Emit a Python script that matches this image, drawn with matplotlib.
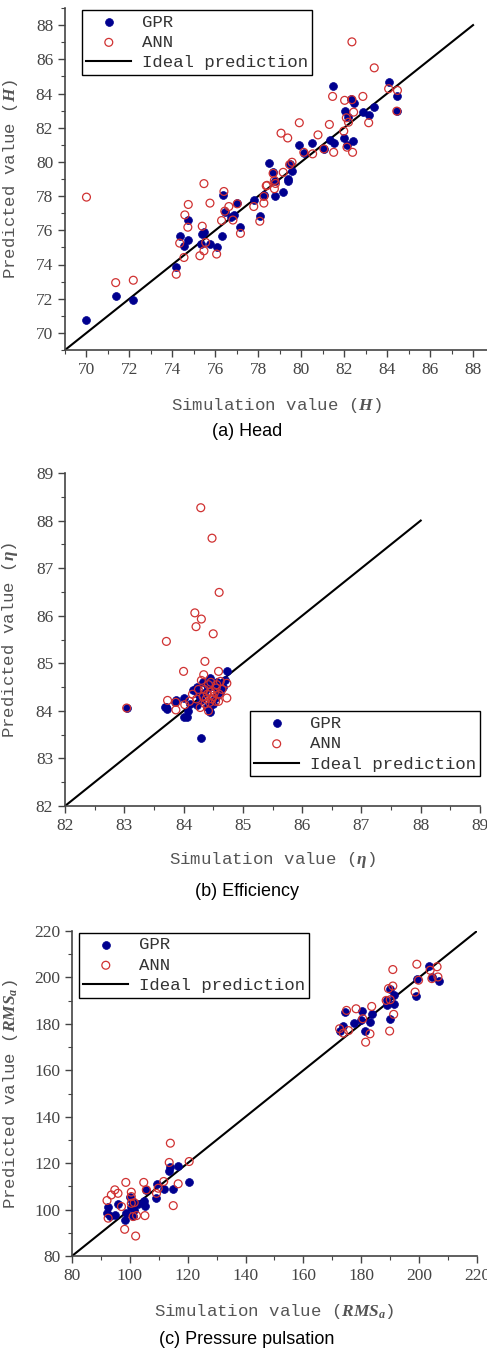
import numpy as np
import matplotlib
matplotlib.use('Agg')
import matplotlib.pyplot as plt
from matplotlib.ticker import MultipleLocator

plt.rcParams['mathtext.fontset'] = 'custom'
plt.rcParams['mathtext.it'] = 'Liberation Serif:italic:bold'
plt.rcParams['mathtext.rm'] = 'Liberation Serif'

# ---- (a) Head ----
a_gpr_x = [84.07, 84.48, 84.45, 81.46, 82.33, 82.47, 82.02, 82.87, 83.14, 83.40, 82.20, 81.98, 82.39,
           82.13, 81.36, 81.54, 80.50, 79.91, 80.12, 81.05, 79.57, 79.37, 79.50, 78.52, 78.69, 78.80,
           79.16, 78.80, 76.37, 70.00, 71.36, 72.18, 74.18, 74.34, 74.72, 74.72, 74.54, 75.39, 75.47,
           75.31, 75.75, 76.06, 76.29, 76.44, 76.71, 76.86, 77.02, 77.17, 77.79, 78.07, 78.26, 79.39]
a_gpr_y = [84.67, 83.83, 82.97, 84.42, 83.70, 83.46, 82.95, 82.91, 82.76, 83.21, 82.62, 81.40, 81.25,
           81.00, 81.29, 81.09, 81.11, 80.96, 80.50, 80.76, 79.45, 79.00, 79.88, 79.94, 79.39, 78.90,
           78.25, 78.00, 78.04, 70.73, 72.16, 71.92, 73.86, 75.69, 76.61, 75.45, 75.10, 75.78, 75.88,
           75.20, 75.20, 75.04, 75.65, 77.06, 76.80, 76.90, 77.59, 76.18, 77.75, 76.84, 78.04, 78.90]
a_ann_x = [70.00, 71.36, 72.18, 74.18, 74.34, 74.54, 74.58, 74.74, 74.72, 75.28, 75.39, 75.47, 75.47,
           75.55, 75.75, 76.06, 76.29, 76.40, 76.44, 76.63, 76.82, 77.02, 77.17, 77.79, 78.07, 78.26,
           78.26, 78.41, 78.75, 78.75, 82.36, 83.40, 84.07, 84.48, 84.45, 81.46, 82.02, 82.36, 82.87,
           82.44, 82.10, 82.20, 83.14, 79.91, 81.31, 81.98, 79.06, 79.37, 80.78, 81.51, 82.39, 82.13,
           80.53, 80.12, 81.05, 79.57, 79.46, 78.69, 79.16, 78.80, 78.37]
a_ann_y = [77.94, 72.94, 73.08, 73.43, 75.25, 74.41, 76.90, 77.51, 76.18, 74.51, 76.24, 78.73, 74.80,
           75.29, 77.59, 74.61, 76.57, 78.27, 77.12, 77.39, 76.60, 77.55, 75.82, 77.39, 76.53, 77.59,
           77.98, 78.63, 78.43, 78.92, 87.02, 85.50, 84.28, 84.18, 82.97, 83.83, 83.60, 83.64, 83.83,
           82.91, 82.58, 82.32, 82.29, 82.29, 82.19, 81.80, 81.68, 81.40, 81.58, 80.56, 80.56, 80.86,
           80.47, 80.56, 80.76, 79.98, 79.84, 79.33, 79.39, 78.74, 78.60]

# ---- (b) Efficiency ----
b_gpr_x = [83.04, 83.71, 83.72, 83.69, 83.87, 83.85, 84.01, 84.01, 84.05, 84.08, 84.29, 84.74, 84.19,
           84.16, 84.22, 84.28, 84.33, 84.42, 84.47, 84.56, 84.61, 84.70, 84.53, 84.39, 84.22, 84.11,
           84.45, 84.45, 84.55, 84.35, 84.48, 84.62, 84.30, 84.50, 84.58, 84.25, 84.40, 84.66, 84.43]
b_gpr_y = [84.06, 84.08, 84.03, 84.09, 84.23, 84.18, 84.27, 83.87, 83.88, 84.00, 83.43, 84.83, 84.43,
           84.44, 84.51, 84.30, 84.61, 84.47, 84.19, 84.61, 84.40, 84.65, 84.26, 84.09, 84.12, 84.15,
           83.97, 84.70, 84.30, 84.38, 84.52, 84.55, 84.22, 84.15, 84.45, 84.36, 84.55, 84.50, 84.05]
b_ann_x = [84.29, 84.48, 84.60, 84.19, 84.30, 84.21, 84.50, 83.71, 84.36, 84.00, 84.59, 84.34, 83.04,
           83.73, 83.87, 83.87, 84.02, 84.10, 84.30, 84.73, 84.73, 84.42, 84.28, 84.59, 84.35, 84.40,
           84.45, 84.50, 84.55, 84.48, 84.38, 84.52, 84.60, 84.42, 84.33, 84.25, 84.46, 84.56, 84.65,
           84.22, 84.15, 84.62, 84.44, 84.36, 84.54]
b_ann_y = [88.27, 87.63, 86.49, 86.06, 85.93, 85.77, 85.62, 85.46, 85.04, 84.83, 84.83, 84.76, 84.06,
           84.22, 84.18, 84.02, 84.13, 84.20, 84.64, 84.27, 84.58, 84.00, 84.07, 84.20, 84.45, 84.35,
           84.40, 84.30, 84.48, 84.25, 84.25, 84.38, 84.35, 84.55, 84.30, 84.45, 84.60, 84.55, 84.45,
           84.25, 84.35, 84.62, 84.18, 84.15, 84.20]

# ---- (c) Pressure pulsation ----
c_gpr_x = [203.3, 204.4, 206.7, 199.2, 199.0, 190.0, 191.2, 188.9, 191.2, 188.9, 189.8, 183.6, 180.2,
           177.6, 179.8, 183.0, 181.3, 174.4, 173.8, 172.5,
           120.5, 116.7, 113.6, 113.8, 115.0, 111.7, 109.4, 109.2, 105.7, 104.8, 105.2, 102.9, 100.5,
           99.97, 100.9, 98.2, 98.8, 95.9, 94.8, 92.5, 92.1, 93.0, 101.1, 101.5]
c_gpr_y = [205.0, 200.2, 198.5, 199.5, 192.0, 195.2, 192.3, 190.4, 188.7, 188.0, 182.2, 184.4, 185.5,
           180.3, 181.8, 180.8, 177.1, 185.1, 179.0, 177.1,
           111.8, 118.8, 116.7, 118.3, 108.8, 108.8, 111.1, 105.2, 108.5, 103.5, 101.7, 102.4, 101.3,
           105.6, 103.7, 95.5, 98.4, 102.4, 97.7, 101.3, 98.4, 97.3, 97.3, 99.9]
c_ann_x = [199.2, 206.2, 203.8, 190.9, 204.4, 206.5, 199.8, 198.6, 190.9, 189.4, 190.0, 188.6, 191.2,
           189.8, 183.6, 178.2, 174.9, 183.0, 181.5, 180.5, 172.5, 173.8, 175.6,
           114.0, 120.5, 113.6, 116.7, 111.7, 115.0, 104.8, 98.6, 94.8, 95.9, 93.6, 92.1, 100.5, 100.5,
           109.2, 109.8, 105.7, 100.5, 101.5, 97.1, 105.2, 102.3, 101.1, 98.2, 102.0, 92.5]
c_ann_y = [205.7, 204.6, 203.1, 203.4, 199.5, 200.2, 198.8, 193.7, 196.3, 195.2, 190.4, 190.1, 184.1,
           176.9, 187.5, 186.5, 185.8, 175.7, 172.1, 182.2, 177.9, 176.0, 177.1,
           128.6, 120.7, 120.3, 111.1, 112.1, 101.7, 111.7, 111.7, 108.5, 107.0, 106.3, 103.9, 107.5, 105.6,
           107.0, 109.2, 108.5, 102.7, 103.0, 101.3, 97.4, 97.4, 97.0, 91.5, 88.6, 96.3]

GPR_C = '#00008F'
ANN_C = '#D03232'
MONO = 'Liberation Mono'
SERIF = 'Liberation Serif'

fig = plt.figure(figsize=(4.87, 13.53), dpi=100)


def panel(rect, lim, ideal, major, minor, gx, gy, ax_x, ax_y, sym, leg_loc, leg_anchor, xl_y, yl_x):
    ax = fig.add_axes(rect)
    ax.plot(ideal, ideal, color='black', lw=1.5, label='Ideal prediction', zorder=2)
    ax.scatter(gx, gy, s=32, color=GPR_C, edgecolors=GPR_C, linewidths=0.5, label='GPR', zorder=3)
    ax.scatter(ax_x, ax_y, s=32, facecolors='none', edgecolors=ANN_C, linewidths=0.9, label='ANN', zorder=4)
    ax.set_xlim(lim[0], lim[1])
    ax.set_ylim(lim[2], lim[3])
    ax.xaxis.set_major_locator(MultipleLocator(major))
    ax.yaxis.set_major_locator(MultipleLocator(major))
    ax.xaxis.set_minor_locator(MultipleLocator(minor))
    ax.yaxis.set_minor_locator(MultipleLocator(minor))
    for s in ['top', 'right']:
        ax.spines[s].set_visible(False)
    for s in ['left', 'bottom']:
        ax.spines[s].set_color('#444444')
        ax.spines[s].set_linewidth(1.2)
    ax.tick_params(which='major', direction='out', length=5, width=1, color='#444444',
                   labelsize=12.5, labelcolor='#444444')
    ax.tick_params(which='minor', direction='out', length=3, width=0.8, color='#444444')
    for lab in ax.get_xticklabels() + ax.get_yticklabels():
        lab.set_fontfamily(SERIF)
    ax.set_xlabel('Simulation value (%s)' % sym, family=MONO, fontsize=12.5, color='#555555')
    ax.set_ylabel('Predicted value (%s)' % sym, family=MONO, fontsize=12.5, color='#555555')
    ax.xaxis.set_label_coords(0.5, xl_y)
    ax.yaxis.set_label_coords(yl_x, 0.5)
    h, l = ax.get_legend_handles_labels()
    order = [1, 2, 0]
    leg = ax.legend([h[i] for i in order], [l[i] for i in order], loc=leg_loc, bbox_to_anchor=leg_anchor,
                    borderaxespad=0, fancybox=False, edgecolor='black', framealpha=1,
                    prop={'family': MONO, 'size': 12.5}, handlelength=2.6, handletextpad=0.6,
                    labelspacing=0.3, borderpad=0.25)
    leg.get_frame().set_linewidth(1.0)
    for t in leg.get_texts():
        t.set_color('#333333')
    return ax


panel([65 / 487, 1003 / 1353, 422 / 487, 342 / 1353], (69, 88.65, 69, 89), [69, 88], 2, 1,
      a_gpr_x, a_gpr_y, a_ann_x, a_ann_y, '$H$', 'upper left', (0.04, 0.994), -0.135, -0.107)
panel([65 / 487, 547 / 1353, 415 / 487, 333 / 1353], (82, 89, 82, 89), [82, 88], 1, 0.5,
      b_gpr_x, b_gpr_y, b_ann_x, b_ann_y, r'$\eta$', 'lower right', (1.0, 0.09), -0.132, -0.108)
panel([72 / 487, 97 / 1353, 405 / 487, 325 / 1353], (80, 220, 80, 220), [80, 220], 20, 10,
      c_gpr_x, c_gpr_y, c_ann_x, c_ann_y, '$RMS_a$', 'upper left', (0.017, 0.994), -0.142, -0.128)

cap = dict(ha='center', va='center', fontsize=13, family=['Liberation Sans Narrow', 'Liberation Sans'],
           color='black')
fig.text(247 / 487, 1 - 432 / 1353, '(a) Head', **cap)
fig.text(247 / 487, 1 - 892 / 1353, '(b) Efficiency', **cap)
fig.text(247 / 487, 1 - 1340 / 1353, '(c) Pressure pulsation', **cap)

fig.savefig('out.png', dpi=100)
